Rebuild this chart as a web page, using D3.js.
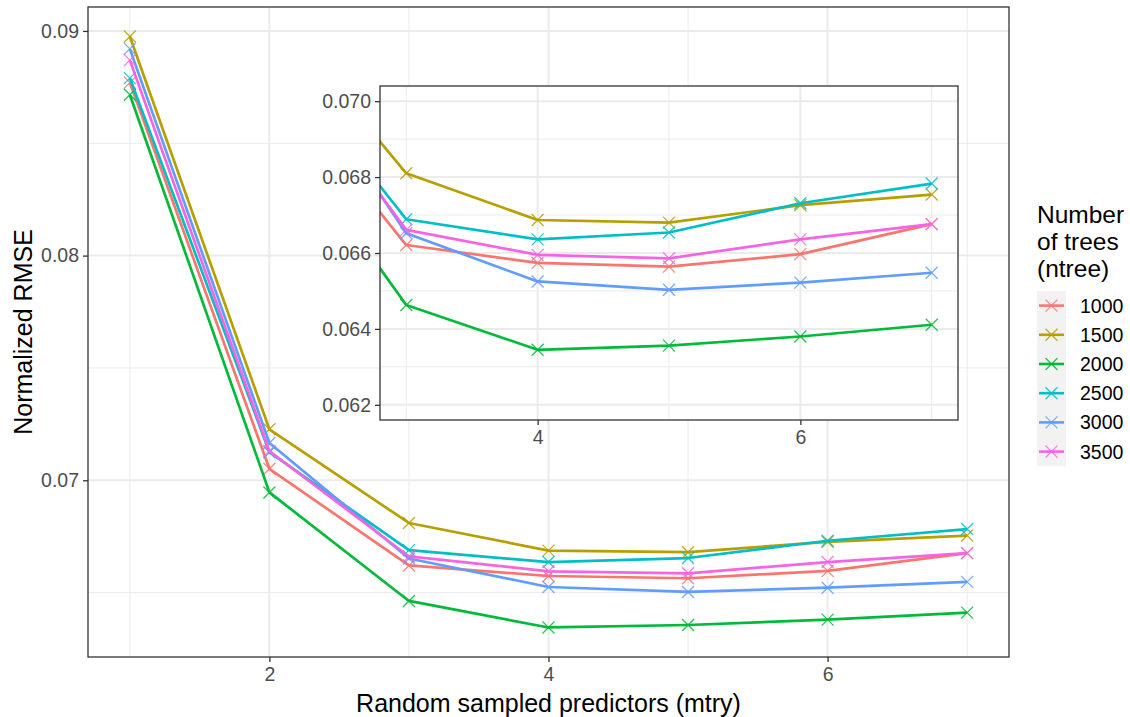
<!DOCTYPE html>
<html>
<head>
<meta charset="utf-8">
<script src="https://cdn.jsdelivr.net/npm/d3@7"></script>
<style>
  html, body { margin: 0; padding: 0; background: #fff; }
  svg { display: block; font-family: "Liberation Sans", Arial, sans-serif; }
</style>
</head>
<body>
<svg id="chart" width="1130" height="717"></svg>
<script>
// ---- data ----
const mtry = [1, 2, 3, 4, 5, 6, 7];
const ntreeLevels = ["1000", "1500", "2000", "2500", "3000", "3500"];
const rmse1000 = [0.0877, 0.07051, 0.06621, 0.06574, 0.06564, 0.06597, 0.06676];
const rmse1500 = [0.08975, 0.07227, 0.06810, 0.06687, 0.06680, 0.06726, 0.06754];
const rmse2000 = [0.08716, 0.06946, 0.06463, 0.06345, 0.06356, 0.06380, 0.06411];
const rmse2500 = [0.0879, 0.07125, 0.06689, 0.06636, 0.06654, 0.06731, 0.06783];
const rmse3000 = [0.0892, 0.07166, 0.06652, 0.06525, 0.06503, 0.06522, 0.06548];
const rmse3500 = [0.0887, 0.07130, 0.06661, 0.06595, 0.06586, 0.06636, 0.06676];
const seriesColors = ["#F8766D", "#B79F00", "#00BA38", "#00BFC4", "#619CFF", "#F564E3"];

const mainXTicks = [2, 4, 6];
const mainXMinor = [1, 3, 5, 7];
const mainYTicks = [0.07, 0.08, 0.09];
const mainYMinor = [0.065, 0.075, 0.085];
const insetXLimits = [3, 7];
const insetYLimits = [0.062, 0.070];
const insetXTicks = [4, 6];
const insetXMinor = [3, 5, 7];
const insetYTicks = [0.062, 0.064, 0.066, 0.068, 0.070];
const insetYMinor = [0.063, 0.065, 0.067, 0.069];

const xTitle = "Random sampled predictors (mtry)";
const yTitle = "Normalized RMSE";
const legendTitle = ["Number", "of trees", "(ntree)"];

const allValues = [rmse1000, rmse1500, rmse2000, rmse2500, rmse3000, rmse3500];
const series = ntreeLevels.map((k, i) => ({
  key: k, color: seriesColors[i],
  points: mtry.map((m, j) => ({ x: m, y: allValues[i][j] }))
}));

// ---- layout ----
const svg = d3.select("#chart");
const FONT_TICK = 19.5, FONT_TITLE = 25;

function expand(lo, hi, f = 0.05) { const r = hi - lo; return [lo - r * f, hi + r * f]; }

const main = { left: 88, right: 1009, top: 7, bottom: 657 };
const inset = { left: 380, right: 958, top: 86, bottom: 420 };

const yAll = d3.extent(allValues.flat());
const xMain = d3.scaleLinear().domain(expand(d3.min(mtry), d3.max(mtry))).range([main.left, main.right]);
const yMain = d3.scaleLinear().domain(expand(yAll[0], yAll[1])).range([main.bottom, main.top]);
const xIn = d3.scaleLinear().domain(expand(insetXLimits[0], insetXLimits[1])).range([inset.left, inset.right]);
const yIn = d3.scaleLinear().domain(expand(insetYLimits[0], insetYLimits[1])).range([inset.bottom, inset.top]);

function drawPanel(id, box, xs, ys, cfg) {
  const g = svg.append("g");
  g.append("rect").attr("x", box.left).attr("y", box.top)
    .attr("width", box.right - box.left).attr("height", box.bottom - box.top)
    .attr("fill", "#fff");
  // minor grid
  g.selectAll(".vminor").data(cfg.xMinor).join("line")
    .attr("x1", d => xs(d)).attr("x2", d => xs(d)).attr("y1", box.top).attr("y2", box.bottom)
    .attr("stroke", "#EBEBEB").attr("stroke-width", 1);
  g.selectAll(".hminor").data(cfg.yMinor).join("line")
    .attr("y1", d => ys(d)).attr("y2", d => ys(d)).attr("x1", box.left).attr("x2", box.right)
    .attr("stroke", "#EBEBEB").attr("stroke-width", 1);
  // major grid
  g.selectAll(".vmajor").data(cfg.xTicks).join("line")
    .attr("x1", d => xs(d)).attr("x2", d => xs(d)).attr("y1", box.top).attr("y2", box.bottom)
    .attr("stroke", "#EBEBEB").attr("stroke-width", 2);
  g.selectAll(".hmajor").data(cfg.yTicks).join("line")
    .attr("y1", d => ys(d)).attr("y2", d => ys(d)).attr("x1", box.left).attr("x2", box.right)
    .attr("stroke", "#EBEBEB").attr("stroke-width", 2);

  const clipId = "clip-" + id;
  svg.append("clipPath").attr("id", clipId).append("rect")
    .attr("x", box.left).attr("y", box.top)
    .attr("width", box.right - box.left).attr("height", box.bottom - box.top);
  const data = g.append("g").attr("clip-path", `url(#${clipId})`);
  const line = d3.line().x(d => xs(d.x)).y(d => ys(d.y));
  series.forEach(s => {
    data.append("path").datum(s.points).attr("d", line)
      .attr("fill", "none").attr("stroke", s.color).attr("stroke-width", 2.7)
      .attr("stroke-linejoin", "round");
    data.selectAll(null).data(s.points).join("path")
      .attr("transform", d => `translate(${xs(d.x)},${ys(d.y)})`)
      .attr("d", "M-6,-6L6,6M-6,6L6,-6")
      .attr("stroke", s.color).attr("stroke-width", 1.3).attr("opacity", 0.85).attr("fill", "none");
  });

  // border
  g.append("rect").attr("x", box.left).attr("y", box.top)
    .attr("width", box.right - box.left).attr("height", box.bottom - box.top)
    .attr("fill", "none").attr("stroke", "#333333").attr("stroke-width", 1.3);

  // axes
  const ax = g.append("g").attr("transform", `translate(0,${box.bottom})`)
    .call(d3.axisBottom(xs).tickValues(cfg.xTicks).tickFormat(cfg.xFmt).tickSize(5).tickPadding(5));
  const ay = g.append("g").attr("transform", `translate(${box.left},0)`)
    .call(d3.axisLeft(ys).tickValues(cfg.yTicks).tickFormat(cfg.yFmt).tickSize(5).tickPadding(4));
  [ax, ay].forEach(a => {
    a.select(".domain").remove();
    a.selectAll(".tick line").attr("stroke", "#333333").attr("stroke-width", 1.3);
    a.selectAll(".tick text").attr("fill", "#4D4D4D").attr("font-size", FONT_TICK)
      .attr("font-family", "'Liberation Sans', Arial, sans-serif");
  });
  return g;
}

drawPanel("main", main, xMain, yMain, {
  xTicks: mainXTicks, xMinor: mainXMinor, yTicks: mainYTicks, yMinor: mainYMinor,
  xFmt: d3.format("d"), yFmt: d3.format(".2f")
});
drawPanel("inset", inset, xIn, yIn, {
  xTicks: insetXTicks, xMinor: insetXMinor, yTicks: insetYTicks, yMinor: insetYMinor,
  xFmt: d3.format("d"), yFmt: d3.format(".3f")
});

// axis titles
svg.append("text").attr("x", (main.left + main.right) / 2).attr("y", 712)
  .attr("text-anchor", "middle").attr("font-size", FONT_TITLE).attr("fill", "#000").text(xTitle);
svg.append("text").attr("transform", `translate(32,${(main.top + main.bottom) / 2}) rotate(-90)`)
  .attr("text-anchor", "middle").attr("font-size", FONT_TITLE).attr("fill", "#000").text(yTitle);

// legend
const lg = svg.append("g");
legendTitle.forEach((t, i) => {
  lg.append("text").attr("x", 1037).attr("y", 223 + i * 27)
    .attr("font-size", FONT_TITLE - 0.5).attr("fill", "#000").text(t);
});
const keyY0 = 291, keyH = 29.2;
lg.append("rect").attr("x", 1037).attr("y", keyY0).attr("width", 29).attr("height", keyH * series.length)
  .attr("fill", "#F2F2F2");
series.forEach((s, i) => {
  const cy = keyY0 + keyH * (i + 0.5);
  lg.append("line").attr("x1", 1039).attr("x2", 1064).attr("y1", cy).attr("y2", cy)
    .attr("stroke", s.color).attr("stroke-width", 2.6);
  lg.append("path").attr("transform", `translate(${1051.5},${cy})`)
    .attr("d", "M-6,-6L6,6M-6,6L6,-6").attr("stroke", s.color).attr("stroke-width", 1.3)
    .attr("opacity", 0.85).attr("fill", "none");
  lg.append("text").attr("x", 1080).attr("y", cy).attr("dy", "0.36em")
    .attr("font-size", FONT_TICK).attr("fill", "#000").text(s.key);
});
</script>
</body>
</html>
